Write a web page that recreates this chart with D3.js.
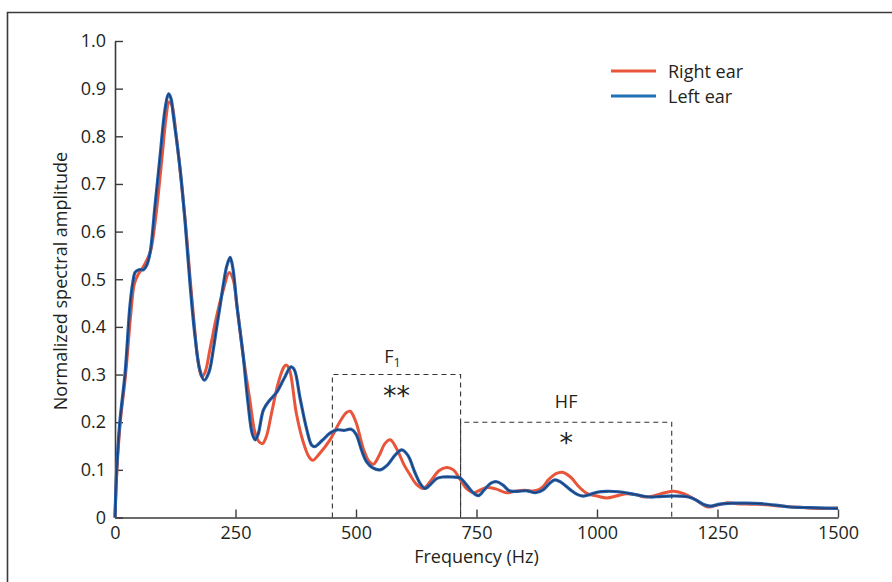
<!DOCTYPE html>
<meta charset="utf-8">
<script src="https://d3js.org/d3.v7.min.js"></script>
<style>
    body{ margin:0; background:#fff; }
    text{ font-family:"Open Sans", "DejaVu Sans", sans-serif; fill:#231f20; }
</style>
<body>
<div id="chart"></div>
<script>
    // [frequency Hz, amplitude]
    var rightEar = [[0,0],[4,0.1],[11,0.2],[22,0.3],[33,0.43],[40,0.49],[48,0.51],[58,0.525],[66,0.54],[74,0.56],[82,0.61],[90,0.68],[98,0.76],[106,0.84],[112,0.872],[118,0.865],[126,0.81],[136,0.72],[146,0.62],[156,0.5],[164,0.41],[172,0.33],[180,0.295],[187,0.305],[197,0.353],[211,0.423],[225,0.479],[237,0.514],[245,0.5],[253,0.444],[266,0.339],[280,0.245],[290,0.18],[298,0.16],[306,0.155],[314,0.17],[325,0.22],[338,0.28],[350,0.315],[355,0.32],[362,0.31],[376,0.22],[390,0.16],[402,0.128],[410,0.12],[425,0.135],[446,0.163],[466,0.2],[480,0.22],[488,0.223],[500,0.2],[515,0.145],[527,0.118],[536,0.112],[548,0.13],[560,0.155],[571,0.163],[584,0.145],[600,0.11],[612,0.09],[625,0.07],[640,0.061],[656,0.078],[672,0.098],[688,0.105],[702,0.1],[716,0.08],[730,0.06],[745,0.052],[758,0.058],[772,0.063],[790,0.06],[812,0.052],[830,0.055],[850,0.057],[870,0.056],[885,0.062],[900,0.08],[915,0.092],[928,0.095],[945,0.085],[962,0.065],[980,0.05],[1000,0.045],[1020,0.041],[1040,0.045],[1060,0.05],[1080,0.048],[1100,0.043],[1120,0.046],[1140,0.052],[1160,0.055],[1180,0.05],[1200,0.04],[1215,0.03],[1230,0.022],[1250,0.026],[1270,0.031],[1290,0.029],[1320,0.028],[1350,0.027],[1380,0.024],[1410,0.022],[1440,0.02],[1470,0.019],[1500,0.02]];

    var leftEar = [[0,0],[3.5,0.1],[10,0.2],[21,0.304],[31,0.444],[37,0.493],[42,0.515],[50,0.52],[59,0.52],[66,0.53],[73,0.557],[83,0.654],[93,0.753],[104,0.858],[111,0.889],[116,0.88],[121,0.844],[135,0.732],[145,0.626],[156,0.486],[166,0.38],[176,0.31],[185,0.288],[195,0.305],[204,0.353],[211,0.4],[218,0.444],[225,0.49],[232,0.528],[239,0.546],[245,0.52],[253,0.444],[266,0.339],[276,0.24],[285,0.175],[291,0.163],[297,0.175],[308,0.226],[320,0.245],[335,0.262],[350,0.29],[365,0.316],[372,0.31],[384,0.25],[398,0.184],[408,0.152],[415,0.149],[430,0.162],[446,0.177],[460,0.184],[475,0.183],[490,0.185],[500,0.175],[512,0.14],[522,0.117],[535,0.104],[550,0.1],[565,0.11],[582,0.132],[595,0.142],[608,0.13],[622,0.095],[634,0.07],[643,0.061],[655,0.07],[668,0.082],[680,0.085],[700,0.085],[716,0.083],[728,0.07],[742,0.053],[754,0.046],[766,0.058],[780,0.072],[792,0.075],[805,0.068],[818,0.056],[835,0.055],[855,0.056],[872,0.052],[888,0.058],[902,0.072],[913,0.079],[925,0.074],[945,0.058],[960,0.048],[972,0.045],[985,0.048],[1000,0.053],[1020,0.055],[1045,0.054],[1070,0.05],[1090,0.046],[1110,0.043],[1130,0.044],[1150,0.045],[1170,0.045],[1190,0.043],[1205,0.037],[1220,0.028],[1235,0.024],[1255,0.028],[1280,0.03],[1310,0.03],[1340,0.029],[1370,0.026],[1400,0.022],[1430,0.021],[1460,0.02],[1500,0.019]];

    var xTicks = [0, 250, 500, 750, 1000, 1250, 1500];
    var yTicks = [0, 0.1, 0.2, 0.3, 0.4, 0.5, 0.6, 0.7, 0.8, 0.9, 1.0];
    var legendLabels = ["Right ear", "Left ear"];
    // analysis windows: [from Hz, to Hz, box height]
    var f1Box = [451, 717, 0.3];
    var hfBox = [717, 1155, 0.2];

    const width = 892, height = 582;
    const mLeft = 115, mRight = 838, mTop = 41, mBottom = 517.5;
    const fs = 18;

    var svg = d3.select("#chart").append("svg")
        .attr("width", width).attr("height", height);

    // cropped frame (top + left only)
    svg.append("path")
        .attr("d", "M7.5,582 V12.5 H892")
        .attr("fill", "none").attr("stroke", "#3a3a3a").attr("stroke-width", 1.6);

    var x = d3.scaleLinear().domain([0, 1500]).range([mLeft, mRight]);
    var y = d3.scaleLinear().domain([0, 1]).range([mBottom, mTop]);

    var xAxis = svg.append("g")
        .attr("transform", "translate(0," + mBottom + ")")
        .call(d3.axisBottom(x).tickValues(xTicks).tickSize(-8).tickPadding(9)
            .tickFormat(d3.format("d")).tickSizeOuter(0));
    var yAxis = svg.append("g")
        .attr("transform", "translate(" + mLeft + ",0)")
        .call(d3.axisLeft(y).tickValues(yTicks).tickSize(-8).tickPadding(9)
            .tickFormat(d => d === 0 ? "0" : d3.format(".1f")(d)).tickSizeOuter(0));

    [xAxis, yAxis].forEach(function (g) {
        g.select(".domain").attr("stroke", "#3a3a3a").attr("stroke-width", 1.6);
        g.selectAll(".tick line").attr("stroke", "#3a3a3a").attr("stroke-width", 1.4);
        g.selectAll(".tick text").attr("font-size", fs).attr("fill", "#231f20")
            .style("font-family", "'Open Sans', sans-serif");
    });
    xAxis.selectAll(".tick text").attr("dy", "0.71em");

    // dashed boxes
    function box(b) {
        return "M" + x(b[0]) + "," + y(0) + " V" + y(b[2]) + " H" + x(b[1]) + " V" + y(0);
    }
    [f1Box, hfBox].forEach(function (b) {
        svg.append("path").attr("d", box(b))
            .attr("fill", "none").attr("stroke", "#333")
            .attr("stroke-width", 1.1).attr("stroke-dasharray", "5,4");
    });

    var line = d3.line()
        .x(d => x(d[0])).y(d => y(d[1]))
        .curve(d3.curveCatmullRom.alpha(0.5));

    svg.append("path").datum(rightEar).attr("d", line)
        .attr("fill", "none").attr("stroke", "#e8553a").attr("stroke-width", 3)
        .attr("stroke-linejoin", "round");
    svg.append("path").datum(leftEar).attr("d", line)
        .attr("fill", "none").attr("stroke", "#2762ad").attr("stroke-width", 3.2)
        .attr("stroke-linejoin", "round");
    svg.append("path").datum(leftEar).attr("d", line)
        .attr("fill", "none").attr("stroke", "#1d3563").attr("stroke-width", 1)
        .attr("stroke-linejoin", "round");

    // box labels
    var f1 = svg.append("text").attr("x", (x(f1Box[0]) + x(f1Box[1])) / 2 - 4).attr("y", 362.5)
        .attr("text-anchor", "middle").attr("font-size", fs);
    f1.append("tspan").text("F");
    f1.append("tspan").attr("font-size", 12.5).attr("dy", 4).text("1");
    svg.append("text").attr("x", (x(f1Box[0]) + x(f1Box[1])) / 2).attr("y", 405)
        .attr("text-anchor", "middle").attr("font-size", 27)
        .style("font-family", "'DejaVu Sans', sans-serif").text("**");
    svg.append("text").attr("x", (x(hfBox[0]) + x(hfBox[1])) / 2).attr("y", 407.5)
        .attr("text-anchor", "middle").attr("font-size", fs).text("HF");
    svg.append("text").attr("x", (x(hfBox[0]) + x(hfBox[1])) / 2).attr("y", 452)
        .attr("text-anchor", "middle").attr("font-size", 27)
        .style("font-family", "'DejaVu Sans', sans-serif").text("*");

    // axis titles
    svg.append("text").attr("x", (mLeft + mRight) / 2).attr("y", 563)
        .attr("text-anchor", "middle").attr("font-size", fs).text("Frequency (Hz)");
    svg.append("text").attr("transform", "translate(67,281) rotate(-90)")
        .attr("text-anchor", "middle").attr("font-size", fs).text("Normalized spectral amplitude");

    // legend
    var legendColors = ["#e8553a", "#1f70b5"];
    legendLabels.forEach(function (lab, i) {
        var ly = 71 + i * 25;
        svg.append("line").attr("x1", 611).attr("x2", 656).attr("y1", ly).attr("y2", ly)
            .attr("stroke", legendColors[i]).attr("stroke-width", 3);
        svg.append("text").attr("x", 668).attr("y", ly + 6.5).attr("font-size", fs).text(lab);
    });
</script>
</body>
